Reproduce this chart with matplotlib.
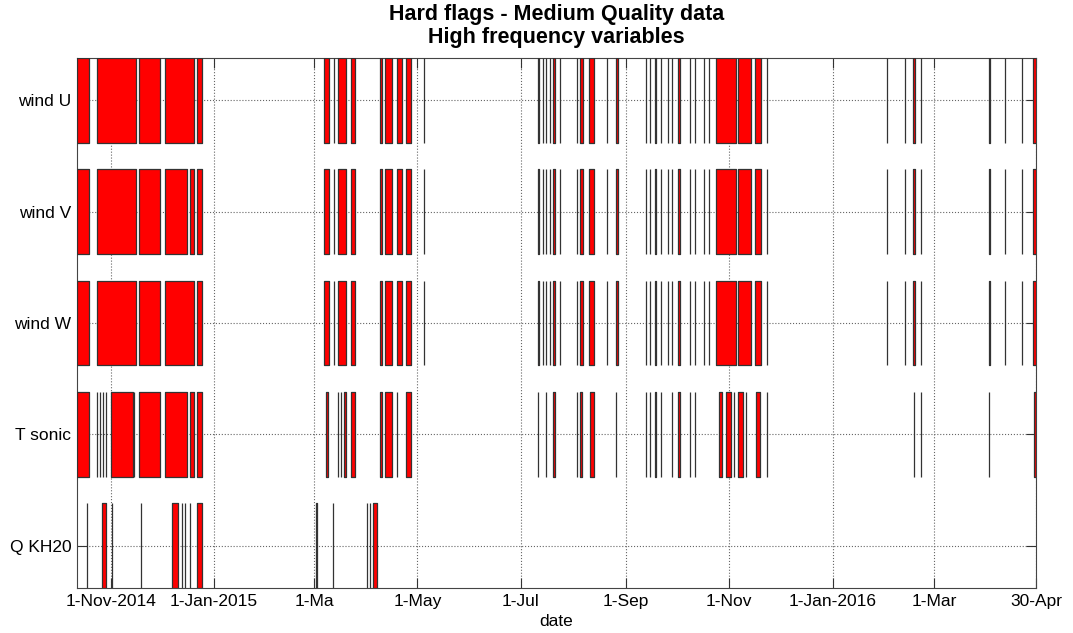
import matplotlib
matplotlib.use("Agg")
import matplotlib.pyplot as plt
import matplotlib.dates as mdates
import pandas as pd

plt.rcParams["font.family"] = ["Liberation Sans", "DejaVu Sans"]

# Flag rows, listed bottom to top
variables = ["Q KH20", "T sonic", "wind W", "wind V", "wind U"]

# Flagged periods per variable: (start, end); equal start/end = single flag
wind_u = [
    ("2014-10-12", "2014-10-19"), ("2014-10-24", "2014-11-16"), ("2014-11-18", "2014-11-30"),
    ("2014-12-03", "2014-12-20"), ("2014-12-22", "2014-12-25"),
    ("2015-03-07", "2015-03-10"), ("2015-03-13", "2015-03-13"), ("2015-03-15", "2015-03-20"),
    ("2015-03-23", "2015-03-25"), ("2015-04-09", "2015-04-10"), ("2015-04-12", "2015-04-16"),
    ("2015-04-19", "2015-04-22"), ("2015-04-24", "2015-04-27"), ("2015-05-05", "2015-05-05"),
    ("2015-07-11", "2015-07-12"), ("2015-07-14", "2015-07-14"), ("2015-07-16", "2015-07-16"),
    ("2015-07-18", "2015-07-18"), ("2015-07-20", "2015-07-21"), ("2015-07-24", "2015-07-24"),
    ("2015-08-03", "2015-08-03"), ("2015-08-05", "2015-08-07"), ("2015-08-10", "2015-08-13"),
    ("2015-08-21", "2015-08-21"), ("2015-08-26", "2015-08-27 12:00"),
    ("2015-09-13", "2015-09-13"), ("2015-09-15", "2015-09-15"), ("2015-09-18", "2015-09-19"),
    ("2015-09-22", "2015-09-22"), ("2015-09-26", "2015-09-26"), ("2015-09-28", "2015-09-28"),
    ("2015-10-02", "2015-10-03"), ("2015-10-09", "2015-10-09"), ("2015-10-12", "2015-10-12"),
    ("2015-10-17", "2015-10-17"), ("2015-10-20", "2015-10-20"),
    ("2015-10-24", "2015-11-05"), ("2015-11-06", "2015-11-14"), ("2015-11-16", "2015-11-20"),
    ("2015-11-23", "2015-11-23"),
    ("2016-02-02", "2016-02-02"), ("2016-02-13", "2016-02-13"), ("2016-02-17 12:00", "2016-02-18 18:00"),
    ("2016-02-22", "2016-02-22"), ("2016-04-02", "2016-04-03"), ("2016-04-12", "2016-04-12"),
    ("2016-04-22", "2016-04-22"), ("2016-04-28", "2016-04-30"),
]

wind_v = [
    ("2014-10-12", "2014-10-19"), ("2014-10-24", "2014-11-16"), ("2014-11-18", "2014-11-30"),
    ("2014-12-03", "2014-12-16"), ("2014-12-18", "2014-12-20"), ("2014-12-22", "2014-12-25"),
    ("2015-03-07", "2015-03-10"), ("2015-03-13", "2015-03-13"), ("2015-03-15", "2015-03-20"),
    ("2015-03-23", "2015-03-25"), ("2015-04-09", "2015-04-10"), ("2015-04-12", "2015-04-16"),
    ("2015-04-19", "2015-04-22"), ("2015-04-24", "2015-04-27"), ("2015-05-05", "2015-05-05"),
    ("2015-07-11", "2015-07-12"), ("2015-07-14", "2015-07-14"), ("2015-07-16", "2015-07-16"),
    ("2015-07-18", "2015-07-18"), ("2015-07-20", "2015-07-21"), ("2015-07-24", "2015-07-24"),
    ("2015-08-03", "2015-08-03"), ("2015-08-05", "2015-08-07"), ("2015-08-10", "2015-08-13"),
    ("2015-08-21", "2015-08-21"), ("2015-08-26", "2015-08-27 12:00"),
    ("2015-09-13", "2015-09-13"), ("2015-09-15", "2015-09-15"), ("2015-09-18", "2015-09-19"),
    ("2015-09-22", "2015-09-22"), ("2015-09-26", "2015-09-26"), ("2015-09-28", "2015-09-28"),
    ("2015-10-02", "2015-10-03"), ("2015-10-09", "2015-10-09"), ("2015-10-12", "2015-10-12"),
    ("2015-10-17", "2015-10-17"), ("2015-10-20", "2015-10-20"),
    ("2015-10-24", "2015-11-05"), ("2015-11-06", "2015-11-14"), ("2015-11-16", "2015-11-20"),
    ("2015-11-23", "2015-11-23"),
    ("2016-02-02", "2016-02-02"), ("2016-02-13", "2016-02-13"), ("2016-02-17 12:00", "2016-02-18 18:00"),
    ("2016-02-22", "2016-02-22"), ("2016-04-02", "2016-04-03"), ("2016-04-12", "2016-04-12"),
    ("2016-04-22", "2016-04-22"), ("2016-04-28", "2016-04-30"),
]

wind_w = [
    ("2014-10-12", "2014-10-19"), ("2014-10-24", "2014-11-16"), ("2014-11-18", "2014-11-30"),
    ("2014-12-03", "2014-12-20"), ("2014-12-22", "2014-12-25"),
    ("2015-03-07", "2015-03-10"), ("2015-03-13", "2015-03-13"), ("2015-03-15", "2015-03-20"),
    ("2015-03-23", "2015-03-25"), ("2015-04-09", "2015-04-10"), ("2015-04-12", "2015-04-16"),
    ("2015-04-19", "2015-04-22"), ("2015-04-24", "2015-04-27"), ("2015-05-05", "2015-05-05"),
    ("2015-07-11", "2015-07-12"), ("2015-07-14", "2015-07-14"), ("2015-07-16", "2015-07-16"),
    ("2015-07-18", "2015-07-18"), ("2015-07-20", "2015-07-21"), ("2015-07-24", "2015-07-24"),
    ("2015-08-03", "2015-08-03"), ("2015-08-05", "2015-08-07"), ("2015-08-10", "2015-08-13"),
    ("2015-08-21", "2015-08-21"), ("2015-08-26", "2015-08-27 12:00"),
    ("2015-09-13", "2015-09-13"), ("2015-09-15", "2015-09-15"), ("2015-09-18", "2015-09-19"),
    ("2015-09-22", "2015-09-22"), ("2015-09-26", "2015-09-26"), ("2015-09-28", "2015-09-28"),
    ("2015-10-02", "2015-10-03"), ("2015-10-09", "2015-10-09"), ("2015-10-12", "2015-10-12"),
    ("2015-10-17", "2015-10-17"), ("2015-10-20", "2015-10-20"),
    ("2015-10-24", "2015-11-05"), ("2015-11-06", "2015-11-14"), ("2015-11-16", "2015-11-20"),
    ("2015-11-23", "2015-11-23"),
    ("2016-02-02", "2016-02-02"), ("2016-02-13", "2016-02-13"), ("2016-02-17 12:00", "2016-02-18 18:00"),
    ("2016-02-22", "2016-02-22"), ("2016-04-02", "2016-04-03"), ("2016-04-12", "2016-04-12"),
    ("2016-04-22", "2016-04-22"), ("2016-04-28", "2016-04-30"),
]

t_sonic = [
    ("2014-10-12", "2014-10-19"), ("2014-10-24", "2014-10-24"), ("2014-10-25 12:00", "2014-10-25 12:00"),
    ("2014-10-27 06:00", "2014-10-27 06:00"), ("2014-10-29 12:00", "2014-10-29 12:00"),
    ("2014-11-01", "2014-11-14"), ("2014-11-15", "2014-11-15"), ("2014-11-18", "2014-11-30"),
    ("2014-12-03", "2014-12-16"), ("2014-12-18", "2014-12-20"), ("2014-12-22", "2014-12-25"),
    ("2015-03-08", "2015-03-09"), ("2015-03-15", "2015-03-15"), ("2015-03-17", "2015-03-17"),
    ("2015-03-19", "2015-03-20"), ("2015-03-23", "2015-03-25"), ("2015-04-09", "2015-04-10"),
    ("2015-04-12", "2015-04-16"), ("2015-04-19", "2015-04-19"), ("2015-04-24", "2015-04-27"),
    ("2015-07-11", "2015-07-11"), ("2015-07-16", "2015-07-16"), ("2015-07-20", "2015-07-21"),
    ("2015-08-03", "2015-08-03"), ("2015-08-05", "2015-08-06"), ("2015-08-11", "2015-08-13"),
    ("2015-08-26", "2015-08-26"), ("2015-09-13", "2015-09-13"), ("2015-09-15", "2015-09-15"),
    ("2015-09-18", "2015-09-19"), ("2015-09-22", "2015-09-22"), ("2015-09-28", "2015-09-28"),
    ("2015-10-02", "2015-10-03"), ("2015-10-09", "2015-10-09"), ("2015-10-12", "2015-10-12"),
    ("2015-10-26", "2015-10-28"), ("2015-10-30", "2015-11-02"), ("2015-11-04", "2015-11-04"),
    ("2015-11-06", "2015-11-09"), ("2015-11-11", "2015-11-11"), ("2015-11-17", "2015-11-19"),
    ("2015-11-23", "2015-11-23"), ("2016-02-18", "2016-02-18"), ("2016-02-22", "2016-02-22"),
    ("2016-04-02", "2016-04-02"), ("2016-04-29", "2016-04-30"),
]

q_kh20 = [
    ("2014-10-18", "2014-10-18"), ("2014-10-27", "2014-10-29"), ("2014-11-01 14:00", "2014-11-01 14:00"),
    ("2014-11-19", "2014-11-19"), ("2014-12-07", "2014-12-11"), ("2014-12-13", "2014-12-13"),
    ("2014-12-15", "2014-12-15"), ("2014-12-18", "2014-12-18"), ("2014-12-22", "2014-12-25"),
    ("2015-03-02", "2015-03-03"), ("2015-03-12", "2015-03-12"), ("2015-04-01", "2015-04-01"),
    ("2015-04-03", "2015-04-03"), ("2015-04-05", "2015-04-07"),
]

flags = [q_kh20, t_sonic, wind_w, wind_v, wind_u]

tick_dates = ["2014-11-01", "2015-01-01", "2015-03-01", "2015-05-01", "2015-07-01",
              "2015-09-01", "2015-11-01", "2016-01-01", "2016-03-01", "2016-04-30"]
tick_labels = ["1-Nov-2014", "1-Jan-2015", "1-Ma", "1-May", "1-Jul",
               "1-Sep", "1-Nov", "1-Jan-2016", "1-Mar", "30-Apr"]

x_start, x_end = "2014-10-12", "2016-04-30"
half = 0.38

fig = plt.figure(figsize=(10.73, 6.33), dpi=100)
ax = fig.add_axes([0.0715, 0.0711, 0.894, 0.8373])

for row, periods in enumerate(flags, start=1):
    spans = []
    for s, e in periods:
        s_num = mdates.date2num(pd.Timestamp(s))
        e_num = mdates.date2num(pd.Timestamp(e))
        spans.append((s_num, e_num - s_num))
    ax.broken_barh(spans, (row - half, 2 * half), facecolors="#ff0000",
                   edgecolors="#333333", linewidths=0.9, zorder=3)

ax.set_xlim(mdates.date2num(pd.Timestamp(x_start)), mdates.date2num(pd.Timestamp(x_end)))
ax.set_ylim(1 - half, len(variables) + half)

ax.set_xticks([mdates.date2num(pd.Timestamp(d)) for d in tick_dates])
ax.set_xticklabels(tick_labels)
ax.set_yticks(range(1, len(variables) + 1))
ax.set_yticklabels(variables)

ax.tick_params(direction="in", length=6.9, width=0.8, color="#333333",
               top=True, right=True, labelsize=12.5, pad=4)
ax.grid(True, linestyle=":", color="#666666", linewidth=0.8, zorder=0)
for sp in ax.spines.values():
    sp.set_color("#444444")
    sp.set_linewidth(0.8)

ax.set_xlabel("date", fontsize=12.5, labelpad=4)
ax.set_title("Hard flags - Medium Quality data\nHigh frequency variables",
             fontsize=15.5, fontweight="bold", pad=11, linespacing=1.1)

fig.savefig("out.png", dpi=100)
